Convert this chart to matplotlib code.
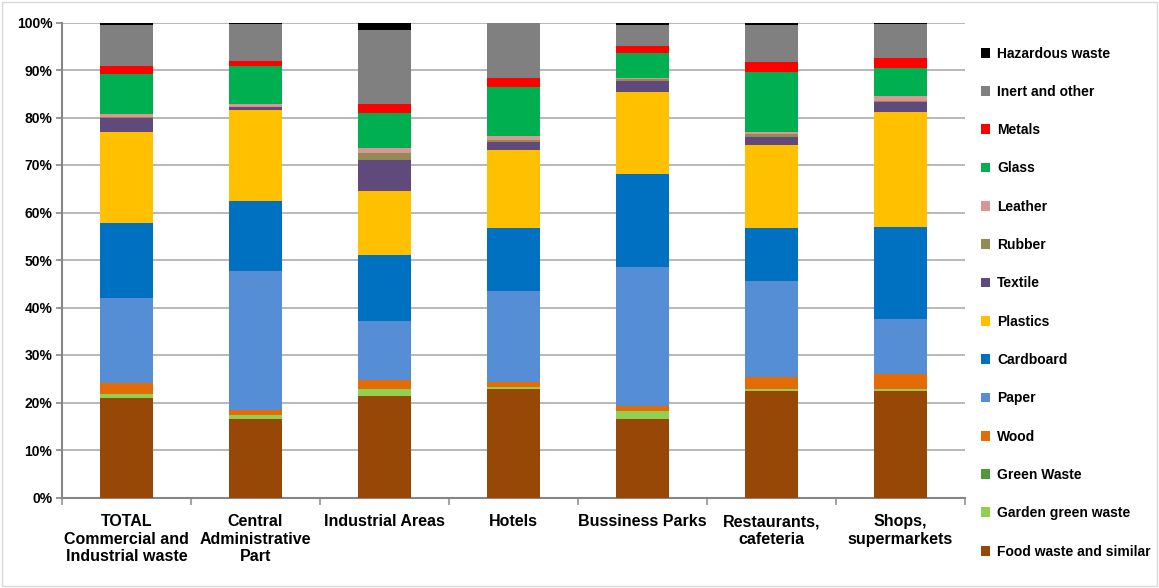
import matplotlib
matplotlib.use("Agg")
import matplotlib.pyplot as plt
from matplotlib.patches import Patch, Rectangle
import numpy as np

plt.rcParams['font.family'] = ['Liberation Sans', 'DejaVu Sans']

categories = ["TOTAL\nCommercial and\nIndustrial waste", "Central\nAdministrative\nPart",
              "Industrial Areas", "Hotels", "Bussiness Parks", "Restaurants,\ncafeteria",
              "Shops,\nsupermarkets"]

food_waste      = [21.0, 16.5, 21.4, 22.8, 16.5, 22.4, 22.4]
garden_green    = [0.8, 0.9, 1.4, 0.5, 1.7, 0.4, 0.4]
green_waste     = [0.0, 0.0, 0.0, 0.0, 0.0, 0.0, 0.0]
wood            = [2.3, 1.0, 1.9, 1.0, 1.1, 2.6, 3.2]
paper           = [17.9, 29.3, 12.5, 19.2, 29.2, 20.2, 11.6]
cardboard       = [15.8, 14.7, 13.85, 13.2, 19.6, 11.1, 19.3]
plastics        = [19.2, 19.2, 13.45, 16.5, 17.3, 17.5, 24.3]
textile         = [2.8, 0.6, 6.55, 1.6, 2.3, 1.7, 2.1]
rubber          = [0.4, 0.1, 1.45, 0.5, 0.5, 0.7, 0.2]
leather         = [0.6, 0.5, 1.1, 0.8, 0.2, 0.3, 1.0]
glass           = [8.4, 8.0, 7.4, 10.3, 5.2, 12.7, 5.9]
metals          = [1.7, 1.1, 1.8, 1.9, 1.5, 2.1, 2.1]
inert_other     = [8.6, 7.8, 15.6, 11.5, 4.45, 7.8, 7.2]
hazardous       = [0.5, 0.3, 1.6, 0.2, 0.5, 0.5, 0.3]

series = [
    ("Food waste and similar", food_waste, "#974706"),
    ("Garden green waste", garden_green, "#92D050"),
    ("Green Waste", green_waste, "#4E9A3A"),
    ("Wood", wood, "#E36C09"),
    ("Paper", paper, "#558ED5"),
    ("Cardboard", cardboard, "#0070C0"),
    ("Plastics", plastics, "#FFC000"),
    ("Textile", textile, "#604A7B"),
    ("Rubber", rubber, "#948A54"),
    ("Leather", leather, "#D99694"),
    ("Glass", glass, "#00B050"),
    ("Metals", metals, "#FF0000"),
    ("Inert and other", inert_other, "#808080"),
    ("Hazardous waste", hazardous, "#000000"),
]

fig = plt.figure(figsize=(11.59, 5.88), dpi=100)
ax = fig.add_axes([62/1159, 1-497.5/588, (965-62)/1159, 475/588])

x = np.arange(len(categories))
bottom = np.zeros(len(categories))
handles = []
for name, vals, col in series:
    v = np.array(vals, dtype=float)
    ax.bar(x, v, bottom=bottom, width=0.405, color=col, linewidth=0, zorder=3)
    bottom += v
    handles.append(Patch(facecolor=col, edgecolor='none', label=name))

ax.set_xlim(-0.5, len(categories) - 0.5)
ax.set_ylim(0, 100)
ax.set_yticks(np.arange(0, 101, 10))
ax.set_yticklabels([f"{t}%" for t in range(0, 101, 10)], fontsize=10, fontweight='bold')
ax.yaxis.grid(True, color='#ABABAB', linewidth=1.2, zorder=0)
ax.set_axisbelow(True)
for s in ['top', 'right']:
    ax.spines[s].set_visible(False)
ax.spines['left'].set_color('#868686')
ax.spines['left'].set_linewidth(1.5)
ax.spines['bottom'].set_color('#868686')
ax.spines['bottom'].set_linewidth(1.5)
ax.tick_params(axis='y', length=4, color='#868686', width=1.2, pad=3)

ax.set_xticks(x)
ax.set_xticklabels(categories, fontsize=11.5, fontweight='bold', linespacing=1.2)
ax.tick_params(axis='x', length=0, pad=12)
ax.set_xticks(np.arange(-0.5, len(categories), 1), minor=True)
ax.tick_params(axis='x', which='minor', length=5, color='#A6A6A6', width=1.5)

leg = fig.legend(handles=handles[::-1], loc='upper left',
                 bbox_to_anchor=(975/1159, 1-41/588), frameon=False,
                 prop={'weight': 'bold', 'size': 10},
                 handlelength=0.7, handleheight=0.7, handletextpad=0.5,
                 labelspacing=1.75, borderaxespad=0)

fig.patches.append(Rectangle((2/1159, 2/588), 1 - 4/1159, 1 - 4/588,
                             transform=fig.transFigure, fill=False,
                             edgecolor='#D9D9D9', linewidth=1))

fig.savefig("out.png", dpi=100)
